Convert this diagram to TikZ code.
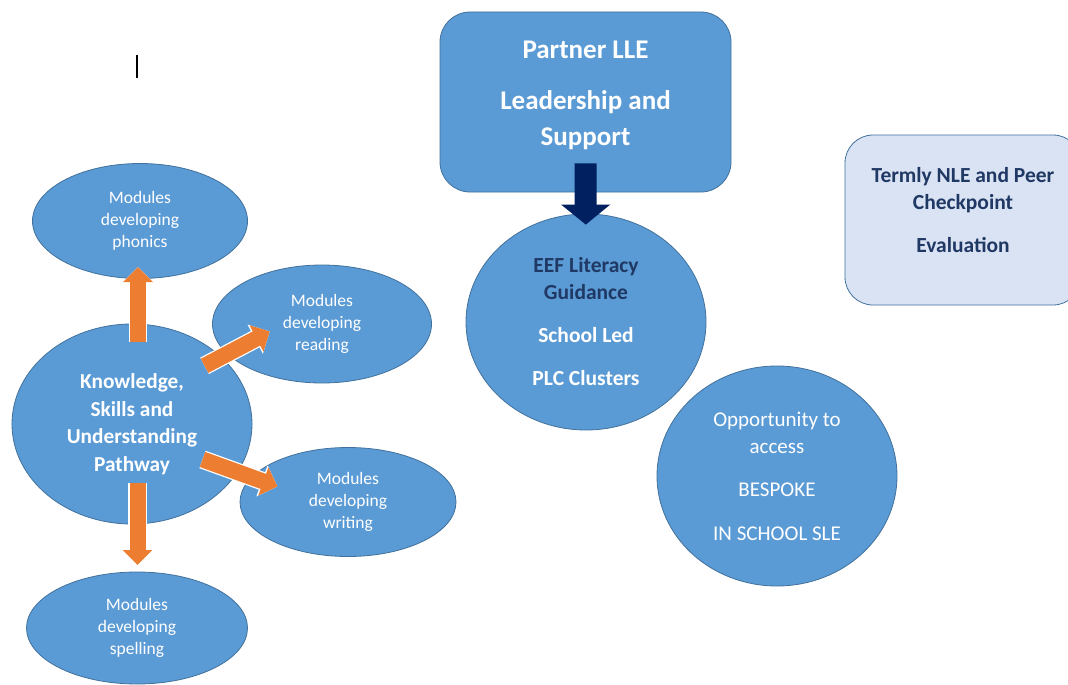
\documentclass[tikz,border=0pt]{standalone}
\usepackage{fontspec}
\setmainfont{Carlito}
\usetikzlibrary{shapes.geometric,arrows.meta}

\definecolor{cellblue}{RGB}{91,155,213}
\definecolor{cellline}{RGB}{65,113,156}
\definecolor{paleblue}{RGB}{218,227,243}
\definecolor{darknavy}{RGB}{0,32,96}
\definecolor{textnavy}{RGB}{31,56,100}
\definecolor{pathorange}{RGB}{237,125,49}

\tikzset{
  blob/.style={ellipse, draw=cellline, fill=cellblue, line width=0.8pt, inner sep=0pt, text=white, align=center},
  module/.style={blob, minimum width=216pt, minimum height=114pt, font=\fontsize{17.5}{22}\selectfont},
  hub/.style={blob, font=\fontsize{21.3}{27.5}\selectfont\bfseries},
  panel/.style={draw=cellline, line width=0.8pt, align=center, font=\bfseries},
  oarrow/.style={draw=pathorange, line width=16pt, -{Triangle[width=29pt,length=15pt]},
    preaction={draw=white, line width=18.5pt, -{Triangle[width=32pt,length=16.5pt]}}},
  navyarrow/.style={draw=darknavy, line width=22pt, -{Triangle[width=48pt,length=20pt]}},
}

\begin{document}
\begin{tikzpicture}[x=1pt,y=-1pt]
      \clip (0,0) rectangle (1068,685);
      \path[use as bounding box, fill=white] (0,0) rectangle (1068,685);
      % \draw[very thin, gray, step=50] (0,0) grid (1068,685);
      \draw[line width=1.3pt] (137,55) -- (137,78);

      \node[panel, fill=cellblue, text=white, rounded corners=30pt, minimum width=291pt, minimum height=180pt,
        font=\fontsize{27}{36}\selectfont\bfseries] (lle) at (585.5,102) {Partner LLE\\[15pt]Leadership and\\Support\\[-19pt]~};
      \node[panel, fill=paleblue, text=textnavy, rounded corners=28pt, minimum width=236pt, minimum height=170pt,
        font=\fontsize{21.5}{27}\selectfont\bfseries] (nle) at (963,220) {Termly NLE and Peer\\Checkpoint\\[16pt]Evaluation\\[-7pt]~};

      \node[hub, minimum width=240pt, minimum height=216pt, font=\fontsize{21.5}{27}\selectfont\bfseries] (eef) at (586,322)
        {{\color{textnavy}EEF Literacy}\\{\color{textnavy}Guidance}\\[16pt]School Led\\[16pt]PLC Clusters};
      \node[blob, minimum width=240pt, minimum height=220pt, font=\fontsize{21}{27}\selectfont] (opp) at (777,476)
        {Opportunity to\\access\\[16pt]BESPOKE\\[17pt]IN SCHOOL SLE};

      \node[module, minimum width=215pt, minimum height=115pt] (phon) at (140,221) {Modules\\developing\\phonics};
      \node[module, minimum width=219pt, minimum height=118pt] (read) at (322,324) {Modules\\developing\\reading};
      \node[module, minimum width=216pt, minimum height=109pt] (wri) at (348,502) {Modules\\developing\\writing};
      \node[module, minimum width=221pt, minimum height=112pt] (spel) at (137,628) {Modules\\developing\\spelling};
      \node[hub, minimum width=240pt, minimum height=200pt] (ksu) at (132,424) {Knowledge,\\Skills and\\Understanding\\Pathway};

      \draw[navyarrow, shorten <=-29pt, shorten >=-11pt] (lle) -- (eef);

      \draw[oarrow, shorten <=82pt, shorten >=46pt] ([xshift=6pt]ksu.center) -- ([xshift=-2pt]phon.center);
      \draw[oarrow, shorten <=82pt, shorten >=59pt] ([yshift=20pt]ksu.center) -- ([yshift=20pt]read.center);
      \draw[oarrow, shorten <=75pt, shorten >=75pt] ([yshift=-10pt]ksu.center) -- ([yshift=-10pt]wri.center);
      \draw[oarrow, shorten <=59pt, shorten >=63pt] ([xshift=5.5pt]ksu.center) -- ([xshift=0.5pt]spel.center);
\end{tikzpicture}
\end{document}
